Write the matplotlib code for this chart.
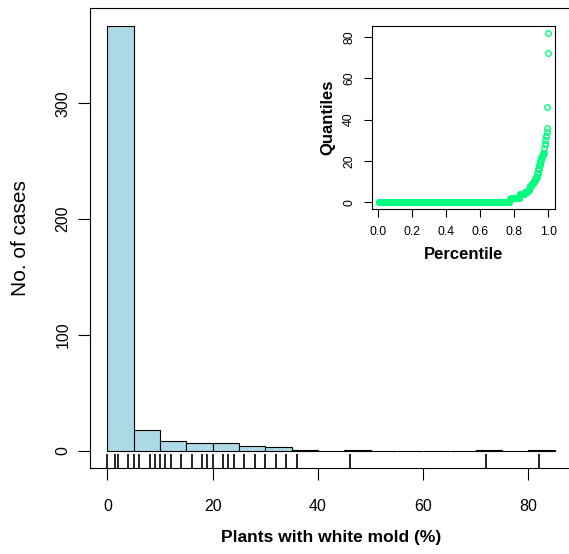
import numpy as np
import matplotlib
matplotlib.use("Agg")
import matplotlib.pyplot as plt

plt.rcParams["font.family"] = ["Liberation Sans", "DejaVu Sans"]

# Observed white mold incidence (%), distinct values and how many cases had each
mold_values = [0, 1.5, 2, 4, 5, 6, 8, 9, 10, 11, 12, 14, 16, 18, 19, 20,
               22, 23, 24, 26, 28, 30, 32, 34, 36, 46, 72, 82]
mold_counts = [323, 3, 22, 12, 7, 5, 5, 3, 5, 3, 3, 3, 2, 2, 1, 2,
               3, 2, 2, 1, 2, 1, 2, 1, 1, 1, 1, 1]
bin_edges = np.arange(0, 90, 5)

x_ticks = [0, 20, 40, 60, 80]
y_ticks = [0, 100, 200, 300]
inset_x_ticks = [0.0, 0.2, 0.4, 0.6, 0.8, 1.0]
inset_y_ticks = [0, 20, 40, 60, 80]

data = np.repeat(mold_values, mold_counts)
n = len(data)

# R-style histogram: right-closed bins, lowest bin includes 0
idx = np.clip(np.digitize(data, bin_edges, right=True), 1, len(bin_edges) - 1)
hist_counts = np.bincount(idx - 1, minlength=len(bin_edges) - 1)

W, H = 569, 554
fig = plt.figure(figsize=(W / 100, H / 100), dpi=100)

# main histogram
ax = fig.add_axes([89.5 / W, (H - 468) / H, 483.2 / W, 460 / H])
ax.bar(bin_edges[:-1], hist_counts, width=5, align="edge",
       color="#ADD8E6", edgecolor="black", linewidth=0.8)
ax.vlines(np.unique(data), 0, 0.03, transform=ax.get_xaxis_transform(),
          color="black", linewidth=1.2)
ax.set_xlim(-3.4, 88.4)
ax.set_ylim(-14.7, 382.2)
ax.set_xticks(x_ticks)
ax.set_yticks(y_ticks)
ax.set_xticklabels([str(v) for v in x_ticks], fontsize=11.5)
ax.set_yticklabels([str(v) for v in y_ticks], fontsize=11.5, rotation=90,
                   va="center")
ax.tick_params(axis="x", length=8.5, width=0.8, pad=14)
ax.tick_params(axis="y", length=8.5, width=0.8, pad=5)
for s in ax.spines.values():
    s.set_linewidth(0.8)
ax.spines["right"].set_visible(False)
ax.set_xlabel("Plants with white mold (%)", fontsize=12.5, fontweight="bold")
ax.xaxis.set_label_coords(0.5, -0.152)
ax.xaxis.label.set_va("center")
ax.set_ylabel("No. of cases", fontsize=15)
ax.yaxis.set_label_coords(-0.143, 0.5)
ax.yaxis.label.set_va("center")

# inset quantile plot
ins = fig.add_axes([371.8 / W, (H - 209) / H, 183.2 / W, 183 / H])
pct = np.arange(1, n + 1) / n
ins.plot(pct, np.sort(data), linestyle="none", marker="o", markersize=4,
         markerfacecolor="none", markeredgecolor="#00FF7F",
         markeredgewidth=1.0)
ins.set_xlim(1 / n - 0.04, 1.04)
ins.set_ylim(-3.28, 85.28)
ins.set_xticks(inset_x_ticks)
ins.set_xticklabels(["%.1f" % v for v in inset_x_ticks], fontsize=8.8)
ins.set_yticks(inset_y_ticks)
ins.set_yticklabels([str(v) for v in inset_y_ticks], fontsize=8.8,
                    rotation=90, va="center")
ins.tick_params(length=6, width=0.8, pad=6)
for s in ins.spines.values():
    s.set_linewidth(0.8)
ins.set_xlabel("Percentile", fontsize=12, fontweight="bold")
ins.xaxis.set_label_coords(0.5, -0.249)
ins.xaxis.label.set_va("center")
ins.set_ylabel("Quantiles", fontsize=12, fontweight="bold")
ins.yaxis.set_label_coords(-0.238, 0.5)
ins.yaxis.label.set_va("center")

fig.savefig("out.png", dpi=100)
